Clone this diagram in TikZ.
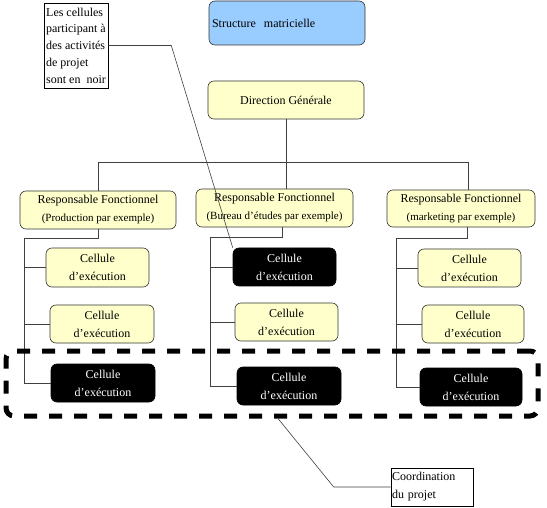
\documentclass[tikz,border=0pt]{standalone}
\usepackage{fontspec}
\setmainfont{Liberation Serif}
\usepackage{tikz}
\usetikzlibrary{positioning}
\definecolor{paleyellow}{HTML}{FFFFCC}
\definecolor{skyblue}{HTML}{99CCFF}
\tikzset{
    box/.style={
        draw=black!80,
        rounded corners=6pt,
        fill=paleyellow,
        line width=0.6pt,
        align=center,
        inner sep=1pt,
        font=\fontsize{12}{18}\selectfont
    },
    darkbox/.style={
        box,
        draw=black,
        fill=black,
        text=white
    },
    memo/.style={
        draw,
        fill=white,
        line width=0.6pt,
        align=left,
        inner sep=1pt
    },
    link/.style={
        draw=black!75,
        line width=0.6pt
    },
    projframe/.style={
        draw,
        line width=5pt,
        dash pattern=on 13pt off 12pt,
        rounded corners=8pt
    }
}
\newcommand{\smalltag}[1]{{\fontsize{11}{13}\selectfont #1}}

\begin{document}
\begin{tikzpicture}[x=1pt, y=-1pt]
  \useasboundingbox (0,0) rectangle (547,508);

  % Top level
  \node[box, fill=skyblue, text width=150pt, align=left, inner xsep=3pt, minimum height=44pt] (struct) at (287,23) {Structure\ \ matricielle};
  \node[box, minimum width=156pt, minimum height=38pt] (dir) at (286,100) {Direction Générale};

  % Managers
  \node[box, minimum width=156pt, minimum height=38pt] (ra) at (98,210) {Responsable Fonctionnel\\\smalltag{(Production par exemple)}};
  \node[box, minimum width=157pt, minimum height=38pt] (rb) at (274.5,208) {Responsable Fonctionnel\\\smalltag{(Bureau d'études par exemple)}};
  \node[box, minimum width=148pt, minimum height=37pt] (rc) at (461,208.5) {Responsable Fonctionnel\\\smalltag{(marketing par exemple)}};

  % Cells
  \node[box, minimum width=103pt, minimum height=39pt] (a1) at (97.5,267.5) {Cellule\\d'exécution};
  \node[box, minimum width=104pt, minimum height=38pt] (a2) at (102,324) {Cellule\\d'exécution};
  \node[darkbox, minimum width=104pt, minimum height=38pt] (a3) at (103,383) {Cellule\\d'exécution};
  \node[darkbox, minimum width=103pt, minimum height=38pt] (b1) at (284.5,267) {Cellule\\d'exécution};
  \node[box, minimum width=103pt, minimum height=38pt] (b2) at (286.5,322) {Cellule\\d'exécution};
  \node[darkbox, minimum width=104pt, minimum height=38pt] (b3) at (289,386) {Cellule\\d'exécution};
  \node[box, minimum width=103pt, minimum height=38pt] (c1) at (469.5,268) {Cellule\\d'exécution};
  \node[box, minimum width=102pt, minimum height=38pt] (c2) at (473,324) {Cellule\\d'exécution};
  \node[darkbox, minimum width=102pt, minimum height=38pt] (c3) at (471,387) {Cellule\\d'exécution};

  % Links
  \draw[link] (dir.south) -- ++(0,43) coordinate (bus);
  \draw[link] (ra.north) |- (bus) -| ([xshift=7pt]rc.north);
  \draw[link] (bus) -- (bus |- rb.north);

  \coordinate (ta) at (24,238);
  \coordinate (tb) at (210,237);
  \coordinate (tc) at (396,238);
  \draw[link] (ra.south) |- (ta) |- (a3.west);
  \draw[link] ([xshift=8pt]rb.south) |- (tb) |- (b3.west);
  \draw[link] ([xshift=6pt]rc.south) |- (tc) |- (c3.west);
  \draw[link] (ta |- a1.west) -- (a1.west);
  \draw[link] (ta |- a2.west) -- (a2.west);
  \draw[link] (tb |- b1.west) -- (b1.west);
  \draw[link] (tb |- b2.west) -- (b2.west);
  \draw[link] (tc |- c1.west) -- (c1.west);
  \draw[link] (tc |- c2.west) -- (c2.west);

  % Project frame
  \node[projframe, minimum width=532pt, minimum height=65pt] (proj) at (272,383.5) {};

  % Notes
  \node[memo, minimum width=64pt, minimum height=85pt, font=\fontsize{12}{16.7}\selectfont] (note) at (76,45.5) {Les cellules\\participant à\\des activités\\de projet\\sont en\ \ noir};
  \node[memo, text width=80pt, minimum height=38pt, font=\fontsize{12}{18}\selectfont] (coord) at (432,487) {Coordination\\du projet};
  \draw[link] (note.east) -- ++(63,0) -- (b1.north west);
  \draw[link] (coord.west) -- ++(-57,0) -- ([xshift=6pt]proj.south);
\end{tikzpicture}
\end{document}
